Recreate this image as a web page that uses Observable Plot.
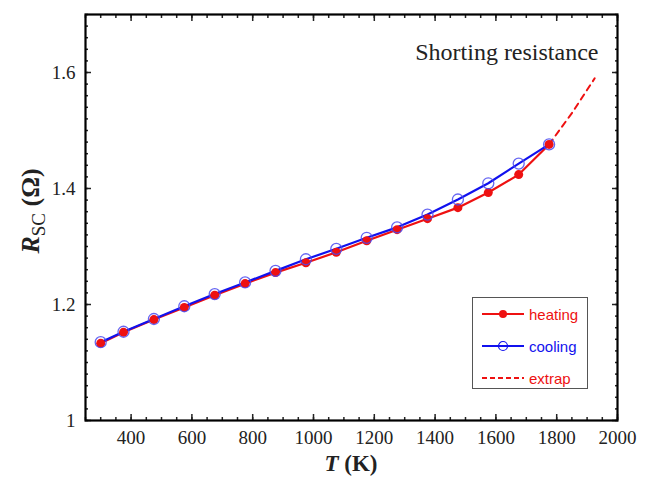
<!DOCTYPE html>
<html>
<head>
<meta charset="utf-8">
<script src="https://cdn.jsdelivr.net/npm/d3@7"></script>
<script src="https://cdn.jsdelivr.net/npm/@observablehq/plot@0.6"></script>
<style>
  body { margin: 0; background: #fff; }
  #wrap { position: relative; width: 648px; height: 477px; }
  #legend { position: absolute; left: 472px; top: 297px; width: 116px; height: 92px;
    border: 1.5px solid #555; background: #fff; box-sizing: border-box;
    font-family: "Liberation Sans", Arial, sans-serif; font-size: 15px; }
  #legend .row { position: absolute; left: 0; height: 20px; display: flex; align-items: center; }
  #legend svg { margin-left: 9px; margin-right: 5px; }
</style>
</head>
<body>
<div id="wrap"></div>
<script>
// ---- data ----
const temperatures = [300, 375, 475, 575, 675, 775, 875, 975, 1075, 1175, 1275, 1375, 1475, 1575, 1675, 1775];
const heating = [1.133, 1.152, 1.174, 1.195, 1.216, 1.236, 1.255, 1.272, 1.290, 1.310, 1.329, 1.348, 1.367, 1.393, 1.424, 1.476];
const cooling = [1.135, 1.153, 1.175, 1.197, 1.218, 1.238, 1.258, 1.278, 1.296, 1.315, 1.333, 1.355, 1.381, 1.409, 1.443, 1.476];
const extrapT = [1775, 1850, 1925];
const extrapR = [1.476, 1.530, 1.590];
const xTickLabels = [400, 600, 800, 1000, 1200, 1400, 1600, 1800, 2000];
const yTickLabels = [1, 1.2, 1.4, 1.6];
const seriesNames = ["heating", "cooling", "extrap"];
const annotation = "Shorting resistance";

const RED = "#ee1111";
const BLUE = "#1111ee";

const heatData = temperatures.map((t, i) => ({T: t, R: heating[i]}));
const coolData = temperatures.map((t, i) => ({T: t, R: cooling[i]}));
const extrapData = extrapT.map((t, i) => ({T: t, R: extrapR[i]}));

const xMinor = d3.range(250, 2001, 50);
const xMajor = d3.range(400, 2001, 200);
const yMinor = d3.range(0, 36).map(i => +(1 + i * 0.02).toFixed(2));
const yMajor = [1, 1.2, 1.4, 1.6];

const serif = "'Liberation Serif', 'Times New Roman', serif";

const chart = Plot.plot({
  width: 648,
  height: 477,
  marginLeft: 85,
  marginRight: 31,
  marginTop: 14,
  marginBottom: 57,
  style: {fontFamily: serif, fontSize: "19px", color: "#222", background: "#fff"},
  x: {domain: [250, 2000]},
  y: {domain: [1, 1.7]},
  marks: [
    // tick labels
    Plot.axisX({ticks: xTickLabels, tickSize: 0, tickPadding: 10, label: null, fontSize: 19, tickFormat: d => String(d)}),
    Plot.axisY({ticks: yTickLabels, tickSize: 0, tickPadding: 10, label: null, fontSize: 19, tickFormat: d => String(d)}),
    // inward ticks
    Plot.axisX({anchor: "bottom", ticks: xMinor, tickSize: -3, tickFormat: () => "", label: null, strokeWidth: 1.5}),
    Plot.axisX({anchor: "bottom", ticks: xMajor, tickSize: -6, tickFormat: () => "", label: null, strokeWidth: 1.5}),
    Plot.axisX({anchor: "top", ticks: xMinor, tickSize: -3, tickFormat: () => "", label: null, strokeWidth: 1.5}),
    Plot.axisX({anchor: "top", ticks: xMajor, tickSize: -6, tickFormat: () => "", label: null, strokeWidth: 1.5}),
    Plot.axisY({anchor: "left", ticks: yMinor, tickSize: -3, tickFormat: () => "", label: null, strokeWidth: 1.5}),
    Plot.axisY({anchor: "left", ticks: yMajor, tickSize: -6, tickFormat: () => "", label: null, strokeWidth: 1.5}),
    Plot.axisY({anchor: "right", ticks: yMinor, tickSize: -3, tickFormat: () => "", label: null, strokeWidth: 1.5}),
    Plot.axisY({anchor: "right", ticks: yMajor, tickSize: -6, tickFormat: () => "", label: null, strokeWidth: 1.5}),
    Plot.frame({stroke: "black", strokeWidth: 2.2}),
    // data
    Plot.line(extrapData, {x: "T", y: "R", stroke: RED, strokeWidth: 2, strokeDasharray: "6,5"}),
    Plot.line(heatData, {x: "T", y: "R", stroke: RED, strokeWidth: 2.2}),
    Plot.line(coolData, {x: "T", y: "R", stroke: BLUE, strokeWidth: 2.2}),
    Plot.dot(heatData, {x: "T", y: "R", r: 4.5, fill: RED, stroke: "none"}),
    Plot.dot(coolData, {x: "T", y: "R", r: 5.5, fill: "none", stroke: "#4a4af0", strokeWidth: 1.3, strokeOpacity: 0.85}),
    Plot.text([annotation], {frameAnchor: "top-right", lineAnchor: "middle", dx: -19, dy: 38, fontSize: 24, fill: "#222", textAnchor: "end"})
  ]
});

const wrap = document.getElementById("wrap");
wrap.appendChild(chart);

// axis titles with italic / subscript parts
const svg = d3.select(chart);
const xl = svg.append("text")
  .attr("x", 351).attr("y", 471)
  .attr("text-anchor", "middle")
  .style("font-family", serif).style("font-size", "23px").style("font-weight", "bold").attr("fill", "#222");
xl.append("tspan").style("font-style", "italic").text("T");
xl.append("tspan").text(" (K)");

const yl = svg.append("text")
  .attr("transform", "translate(39,211) rotate(-90)")
  .attr("text-anchor", "middle")
  .style("font-family", serif).style("font-size", "26px").style("font-weight", "bold").attr("fill", "#222");
yl.append("tspan").style("font-style", "italic").text("R");
yl.append("tspan").attr("dy", 6).style("font-size", "19px").style("font-weight", "normal").text("SC");
yl.append("tspan").attr("dy", -6).text(" (Ω)");

// legend
const legend = document.createElement("div");
legend.id = "legend";
const styles = [
  {color: RED, dash: null, marker: "filled"},
  {color: BLUE, dash: null, marker: "open"},
  {color: RED, dash: "5,3", marker: null}
];
seriesNames.forEach((name, i) => {
  const row = document.createElement("div");
  row.className = "row";
  row.style.top = (6 + i * 32) + "px";
  const s = styles[i];
  let sv = `<svg width="42" height="12"><line x1="0" y1="6" x2="42" y2="6" stroke="${s.color}" stroke-width="2" ${s.dash ? `stroke-dasharray="${s.dash}"` : ""}/>`;
  if (s.marker === "filled") sv += `<circle cx="21" cy="6" r="4" fill="${s.color}"/>`;
  if (s.marker === "open") sv += `<circle cx="21" cy="6" r="4.5" fill="none" stroke="${s.color}" stroke-width="1.2"/>`;
  sv += `</svg>`;
  row.innerHTML = sv + `<span style="color:${s.color}">${name}</span>`;
  legend.appendChild(row);
});
wrap.appendChild(legend);
</script>
</body>
</html>
